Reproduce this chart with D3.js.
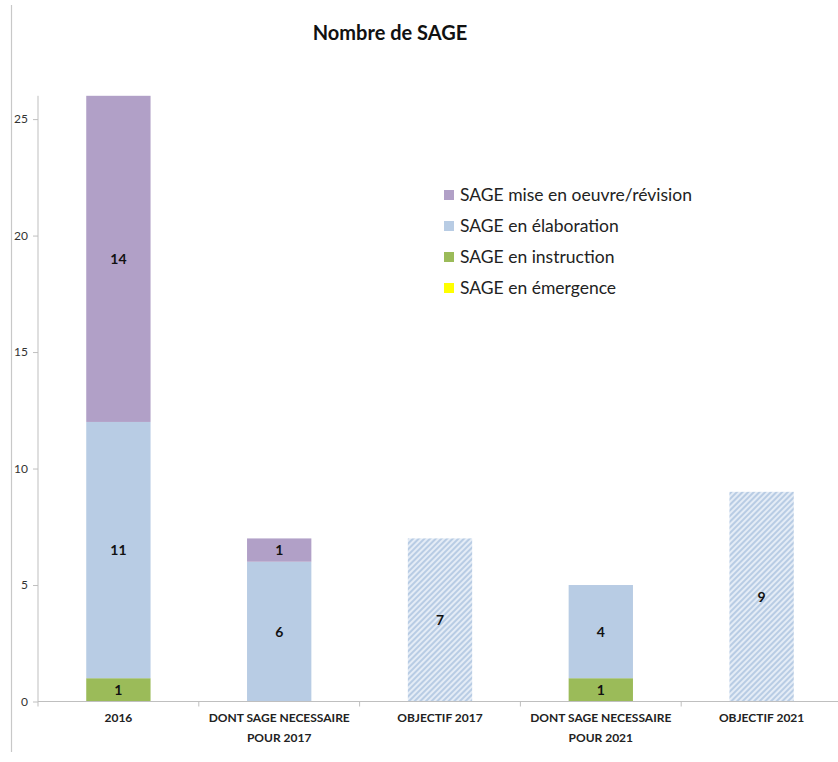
<!DOCTYPE html>
<html>
<head>
<meta charset="utf-8">
<script src="https://cdn.jsdelivr.net/npm/d3@7"></script>
<style>
  html, body { margin: 0; padding: 0; background: #fff; }
  svg { display: block; }
  text { font-family: Lato, "Open Sans", "Liberation Sans", sans-serif; }
</style>
</head>
<body>
<svg id="chart" width="838" height="762"></svg>
<script>
// Categories along the x axis (multi-line labels split on \n)
const categories = [
  "2016",
  "DONT SAGE NECESSAIRE\nPOUR 2017",
  "OBJECTIF 2017",
  "DONT SAGE NECESSAIRE\nPOUR 2021",
  "OBJECTIF 2021"
];

// Stacked series, bottom to top
const emergence   = [0, 0, 0, 0, 0];
const instruction = [1, 0, 0, 1, 0];
const elaboration = [11, 6, 0, 4, 0];
const miseEnOeuvre = [14, 1, 0, 0, 0];
// Targets, drawn hatched
const objectif    = [0, 0, 7, 0, 9];

const seriesNames = [
  "SAGE en émergence",
  "SAGE en instruction",
  "SAGE en élaboration",
  "SAGE mise en oeuvre/révision",
  "Objectif"
];
const seriesColors = ["#ffff00", "#9bbb59", "#b8cce4", "#b1a0c7", "url(#hatch)"];

const yTicks = [0, 5, 10, 15, 20, 25];

const svg = d3.select("#chart");

// Hatch pattern for target bars
const defs = svg.append("defs");
const pat = defs.append("pattern")
  .attr("id", "hatch")
  .attr("patternUnits", "userSpaceOnUse")
  .attr("width", 4).attr("height", 4)
  .attr("patternTransform", "rotate(45)");
pat.append("rect").attr("width", 4).attr("height", 4).attr("fill", "#e4ecf6");
pat.append("rect").attr("width", 2).attr("height", 4).attr("fill", "#b8cce4");

// Outer frame line on the left
svg.append("line")
  .attr("x1", 11.5).attr("x2", 11.5)
  .attr("y1", 5).attr("y2", 752)
  .attr("stroke", "#c8c8c8").attr("stroke-width", 1.2);

const x0 = 38, x1 = 842;
const x = d3.scaleBand().domain(categories).range([x0, x1]).padding(0);
const barW = x.bandwidth() * 0.4;
const y = d3.scaleLinear().domain([0, 26]).range([701.5, 95.8]);

// Title
svg.append("text")
  .attr("x", 390).attr("y", 40)
  .attr("text-anchor", "middle")
  .attr("font-size", 20).attr("font-weight", "bold")
  .attr("fill", "#111")
  .text("Nombre de SAGE");

// Stack data
const rows = categories.map((c, i) => ({
  cat: c,
  s0: emergence[i], s1: instruction[i], s2: elaboration[i], s3: miseEnOeuvre[i], s4: objectif[i]
}));
const stack = d3.stack().keys(["s0", "s1", "s2", "s3", "s4"])(rows);

const g = svg.append("g");
stack.forEach((layer, li) => {
  layer.forEach(d => {
    const v = d[1] - d[0];
    if (v <= 0) return;
    const cx = x(d.data.cat) + x.bandwidth() / 2;
    g.append("rect")
      .attr("x", cx - barW / 2)
      .attr("y", y(d[1]))
      .attr("width", barW)
      .attr("height", y(d[0]) - y(d[1]))
      .attr("fill", seriesColors[li]);
    g.append("text")
      .attr("x", cx)
      .attr("y", (y(d[0]) + y(d[1])) / 2)
      .attr("dy", "0.36em")
      .attr("text-anchor", "middle")
      .attr("font-size", 14).attr("font-weight", "bold")
      .attr("fill", "#111")
      .text(v);
  });
});

// Y axis
const yAxis = d3.axisLeft(y).tickValues(yTicks).tickSize(5).tickSizeOuter(0);
const ya = svg.append("g").attr("transform", `translate(${x0},0)`).call(yAxis);
ya.select(".domain").attr("stroke", "#bfbfbf").attr("d", `M0,${y(0)}V${y(26)}`);
ya.selectAll(".tick line").attr("stroke", "#bfbfbf");
ya.selectAll(".tick text")
  .attr("font-size", 12).attr("fill", "#333")
  .attr("font-family", "Lato, 'Open Sans', sans-serif")
  .attr("x", -10);

// X axis
const xBoundaries = categories.map(c => x(c)).concat([x1]);
const xa = svg.append("g").attr("transform", `translate(0,${y(0)})`);
xa.append("line").attr("x1", x0).attr("x2", 838).attr("y1", 0).attr("y2", 0)
  .attr("stroke", "#bfbfbf");
xa.selectAll("line.tk").data(xBoundaries).join("line")
  .attr("class", "tk")
  .attr("x1", d => d).attr("x2", d => d)
  .attr("y1", 0).attr("y2", 5)
  .attr("stroke", "#bfbfbf");
categories.forEach(c => {
  const t = xa.append("text")
    .attr("x", x(c) + x.bandwidth() / 2)
    .attr("y", 20)
    .attr("text-anchor", "middle")
    .attr("font-size", 12).attr("font-weight", "bold")
    .attr("fill", "#222");
  c.split("\n").forEach((line, k) => {
    t.append("tspan")
      .attr("x", x(c) + x.bandwidth() / 2)
      .attr("dy", k === 0 ? 0 : 20)
      .text(line);
  });
});

// Legend (top entry first)
const legendOrder = [3, 2, 1, 0];
const lg = svg.append("g").attr("transform", "translate(444,195)");
legendOrder.forEach((si, k) => {
  const row = lg.append("g").attr("transform", `translate(0,${k * 31})`);
  row.append("rect").attr("x", 0).attr("y", -5).attr("width", 10).attr("height", 10)
    .attr("fill", seriesColors[si]);
  row.append("text").attr("x", 16).attr("y", 0).attr("dy", "0.36em")
    .attr("font-size", 17.5).attr("fill", "#222")
    .text(seriesNames[si]);
});
</script>
</body>
</html>
